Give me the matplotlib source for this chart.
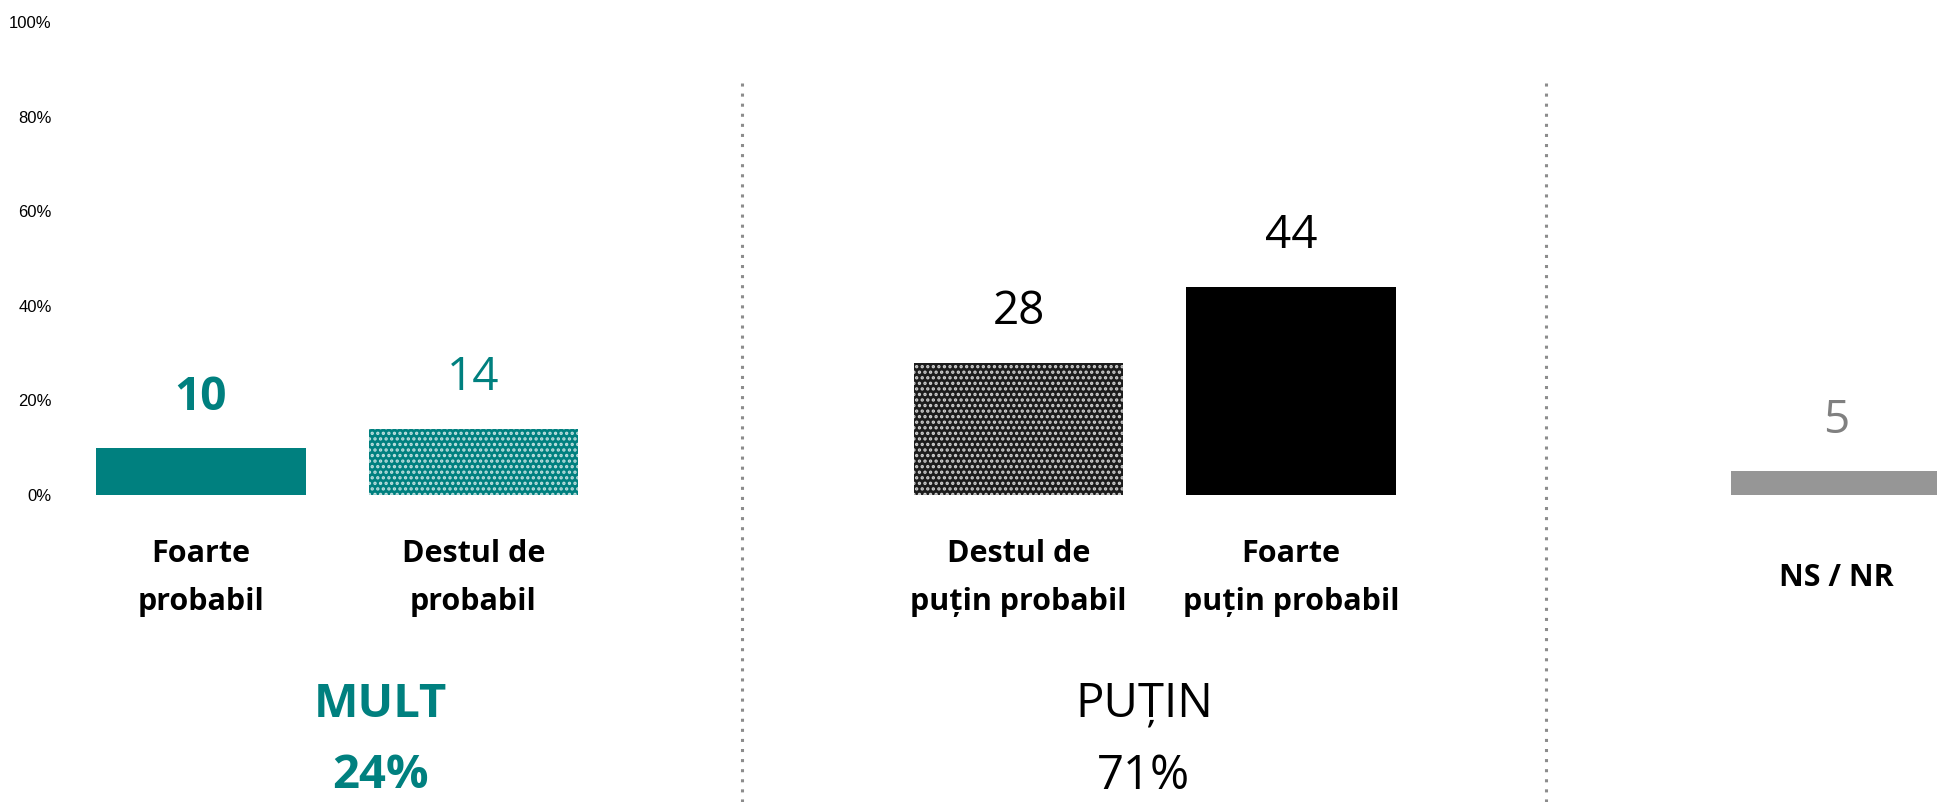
import numpy as np
import matplotlib
matplotlib.use("Agg")
import matplotlib.pyplot as plt

plt.rcParams['font.family'] = ['Open Sans', 'Noto Sans', 'DejaVu Sans']
plt.rcParams['hatch.linewidth'] = 1.6

# data
categories = ["Foarte\nprobabil", "Destul de\nprobabil",
              "Destul de\npuțin probabil", "Foarte\npuțin probabil", "NS / NR"]
values = [10, 14, 28, 44, 5]
positions = [0, 1, 3, 4, 6]
groups = ["MULT\n24%", "PUȚIN\n71%"]
group_pos = [0.66, 3.46]
yticks = [0, 20, 40, 60, 80, 100]

teal = '#00807F'
bar_face = [teal, teal, '#1c1c1c', 'black', '#969696']
bar_hatch_col = [teal, '#bfe0df', '#d0d0d0', 'black', '#969696']
bar_hatch = [None, '...', '...', None, None]
label_col = [teal, teal, 'black', 'black', '#808080']
label_weight = ['bold', 'normal', 'normal', 'normal', 'normal']
group_col = [teal, 'black']
group_weight = ['bold', 'normal']

fig = plt.figure(figsize=(19.37, 8.02), dpi=100)
ax = fig.add_axes([60 / 1937, (802 - 495) / 802, 1 - 60 / 1937, 473 / 802])

bars = ax.bar(positions, values, width=0.77, color=bar_face,
              edgecolor=bar_hatch_col, linewidth=0)
for b, h in zip(bars, bar_hatch):
    if h:
        b.set_hatch(h)

for p, v, c, w in zip(positions, values, label_col, label_weight):
    ax.annotate(str(v), (p, v), xytext=(0, 36.5), textcoords='offset points',
                ha='center', va='center', fontsize=33, color=c, fontweight=w)

for p, cat in zip(positions, categories):
    ax.text(p, -0.175, cat, transform=ax.get_xaxis_transform(), ha='center',
            va='center', fontsize=22, fontweight='bold', linespacing=1.8)

for gp, g, c, w in zip(group_pos, groups, group_col, group_weight):
    ax.text(gp, -0.518, g, transform=ax.get_xaxis_transform(), ha='center',
            va='center', fontsize=34, color=c, fontweight=w, linespacing=1.68)

# dotted separators
for sx in [1.985, 4.935]:
    ax.plot([sx, sx], [0.871, -0.66], transform=ax.get_xaxis_transform(),
            clip_on=False, color='#8c8c8c', lw=2.2, dashes=(1, 2.3))

ax.set_xlim(-0.5174, 6.3706)
ax.set_ylim(0, 100)
ax.set_yticks(yticks)
ax.set_yticklabels([f"{t}%" for t in yticks], fontsize=12,
                   family=['Liberation Sans', 'DejaVu Sans'])
ax.tick_params(axis='y', length=0, pad=6)
ax.set_xticks([])
for s in ax.spines.values():
    s.set_visible(False)

fig.savefig("out.png", dpi=100)
